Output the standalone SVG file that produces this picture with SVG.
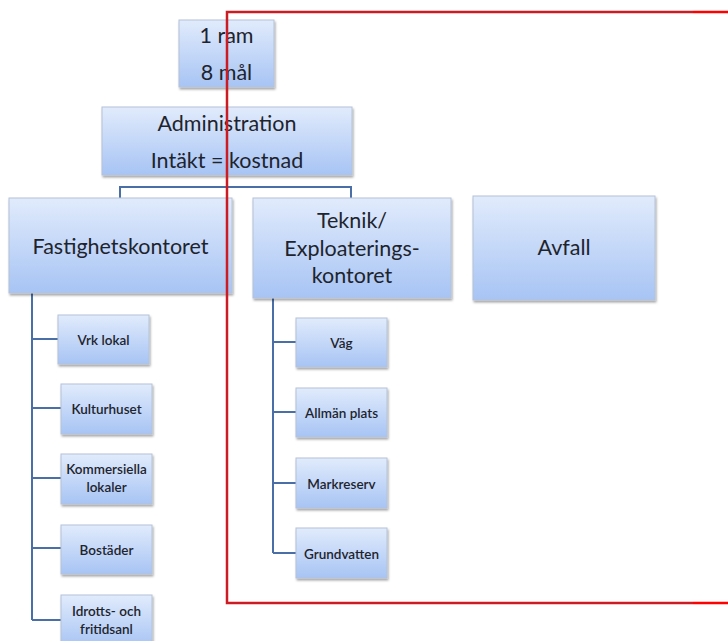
<svg xmlns="http://www.w3.org/2000/svg" width="728" height="641" viewBox="0 0 728 641">
  <defs>
    <linearGradient id="g" x1="0" y1="0" x2="0" y2="1">
      <stop offset="0" stop-color="#e1ebfc"/>
      <stop offset="1" stop-color="#a7c4f4"/>
    </linearGradient>
    <filter id="sh" x="-10%" y="-10%" width="125%" height="130%">
      <feDropShadow dx="1" dy="2" stdDeviation="1.2" flood-color="#000" flood-opacity="0.35"/>
    </filter>
  </defs>
  <style>
    .box { fill: url(#g); stroke: #b4c2d8; stroke-width: 1; filter: url(#sh); }
    .t { font-family: Lato, "Open Sans", "Liberation Sans", sans-serif; fill: #1e242d; text-anchor: middle; }
    .big { font-size: 21.5px; }
    .sm { font-size: 13.5px; font-weight: 600; }
    .con { fill: none; stroke: #4a6fa7; stroke-width: 2; }
  </style>
  <rect width="728" height="641" fill="#fff"/>

  <g id="connectors">
    <path class="con" d="M227 175 V187 M120 198 V187 H351 V198"/>
    <path class="con" d="M32 293 V620 M32 339 H58 M32 408 H61 M32 478 H61 M32 548 H61 M32 620 H61"/>
    <path class="con" d="M273 298 V553 M273 342 H296 M273 412 H296 M273 483 H296 M273 553 H296"/>
  </g>

  <g id="n-ram">
    <rect class="box" x="179" y="20" width="95" height="67"/>
    <text class="t big" x="226.5" y="43">1 ram</text>
    <text class="t big" x="226.5" y="80">8 mål</text>
  </g>
  <g id="n-admin">
    <rect class="box" x="102" y="107" width="250" height="68"/>
    <text class="t big" x="227" y="131">Administration</text>
    <text class="t big" x="227" y="168">Intäkt = kostnad</text>
  </g>
  <g id="n-fastighet">
    <rect class="box" x="9" y="198" width="223" height="95"/>
    <text class="t big" x="120.5" y="254">Fastighetskontoret</text>
  </g>
  <g id="n-teknik">
    <rect class="box" x="253" y="198" width="198" height="100"/>
    <text class="t big" x="352" y="228">Teknik/</text>
    <text class="t big" x="352" y="256">Exploaterings-</text>
    <text class="t big" x="352" y="283">kontoret</text>
  </g>
  <g id="n-avfall">
    <rect class="box" x="473" y="196" width="182" height="104"/>
    <text class="t big" x="564" y="255">Avfall</text>
  </g>

  <g id="n-vrk">
    <rect class="box" x="58" y="315" width="91" height="49"/>
    <text class="t sm" x="103.5" y="345">Vrk lokal</text>
  </g>
  <g id="n-kultur">
    <rect class="box" x="61" y="384" width="91" height="50"/>
    <text class="t sm" x="106.5" y="414">Kulturhuset</text>
  </g>
  <g id="n-kommers">
    <rect class="box" x="61" y="454" width="91" height="50"/>
    <text class="t sm" x="106.5" y="474">Kommersiella</text>
    <text class="t sm" x="106.5" y="492">lokaler</text>
  </g>
  <g id="n-bostader">
    <rect class="box" x="61" y="525" width="91" height="49"/>
    <text class="t sm" x="106.5" y="555">Bostäder</text>
  </g>
  <g id="n-idrott">
    <rect class="box" x="61" y="595" width="91" height="52"/>
    <text class="t sm" x="106.5" y="616">Idrotts- och</text>
    <text class="t sm" x="106.5" y="634">fritidsanl</text>
  </g>

  <g id="n-vag">
    <rect class="box" x="296" y="318" width="91" height="49"/>
    <text class="t sm" x="341.5" y="348">Väg</text>
  </g>
  <g id="n-allman">
    <rect class="box" x="296" y="388" width="91" height="49"/>
    <text class="t sm" x="341.5" y="418">Allmän plats</text>
  </g>
  <g id="n-mark">
    <rect class="box" x="296" y="458" width="91" height="50"/>
    <text class="t sm" x="341.5" y="489">Markreserv</text>
  </g>
  <g id="n-grund">
    <rect class="box" x="296" y="528" width="91" height="50"/>
    <text class="t sm" x="341.5" y="559">Grundvatten</text>
  </g>

  <g id="highlight">
    <path d="M693 12 H227 V603 H693" fill="none" stroke="#cc1b22" stroke-width="2.5"/>
    <path d="M693 12 H740 M693 603 H740" fill="none" stroke="#ff0000" stroke-width="2.5"/>
  </g>
</svg>
